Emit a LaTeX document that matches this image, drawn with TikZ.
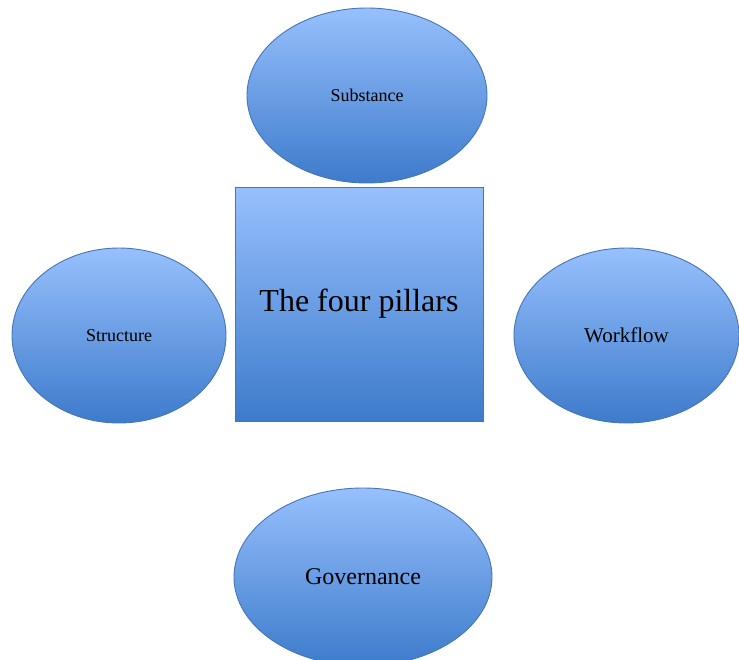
\documentclass[tikz,border=0pt]{standalone}
\usepackage{fontspec}
\setmainfont{Liberation Serif}
\usetikzlibrary{shapes.geometric}

\definecolor{pillartop}{HTML}{97C0FD}
\definecolor{pillarbot}{HTML}{3D7BCB}
\definecolor{pillarline}{HTML}{4676B4}

\tikzset{
	pillar/.style={ellipse, draw=pillarline, line width=0.9pt, inner sep=0pt,
		top color=pillartop, bottom color=pillarbot},
	core/.style={rectangle, draw=pillarline, line width=0.9pt, inner sep=0pt,
		top color=pillartop, bottom color=pillarbot}
}

\begin{document}
\begin{tikzpicture}[x=1pt,y=-1pt]
	\useasboundingbox (0,0) rectangle (739,659);
	\clip (0,0) rectangle (739,659);
	% the centre block
	\node[core, minimum width=248pt, minimum height=234pt] (pillars) at (359,304)
		{\fontsize{32}{36}\selectfont The four pillars};
	% the four pillars round it
	\node[pillar, minimum width=240pt, minimum height=175pt] (substance) at (367,95.5)
		{\fontsize{18}{20}\selectfont Substance};
	\node[pillar, minimum width=214pt, minimum height=175pt] (structure) at (119,335.5)
		{\fontsize{18}{20}\selectfont Structure};
	\node[pillar, minimum width=225pt, minimum height=175pt] (workflow) at (626.5,335.5)
		{\fontsize{21}{24}\selectfont Workflow};
	\node[pillar, minimum width=258pt, minimum height=178pt] (governance) at (363,577)
		{\fontsize{24}{28}\selectfont Governance};
\end{tikzpicture}
\end{document}
